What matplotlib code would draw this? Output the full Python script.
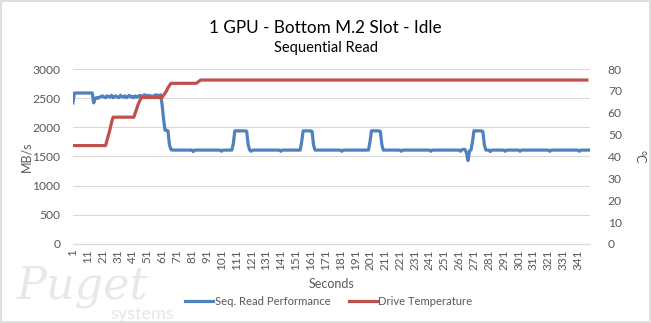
import matplotlib
matplotlib.use('Agg')
import matplotlib.pyplot as plt
from matplotlib.patches import Rectangle

TITLE = '1 GPU - Bottom M.2 Slot - Idle'
SUBTITLE = 'Sequential Read'
OUT = 'out.png'

BLUE = '#4F81BD'
RED = '#C0504D'
GRID = '#D9D9D9'
TEXT = '#595959'

# (value, how many seconds) runs
perf_runs = [
    (2420, 1), (2590, 13), (2420, 1), (2500, 1),
    (2510, 1), (2500, 1), (2520, 1), (2530, 1), (2540, 1), (2520, 1),
    (2510, 1), (2540, 1), (2530, 1), (2520, 1), (2550, 1), (2510, 1),
    (2530, 1), (2540, 1), (2520, 1), (2510, 1), (2550, 1), (2530, 1),
    (2520, 1), (2540, 1), (2510, 1), (2530, 1), (2550, 1), (2520, 1),
    (2530, 1), (2510, 1), (2540, 1), (2520, 1), (2530, 1), (2550, 1),
    (2540, 1), (2530, 1), (2560, 1), (2550, 1), (2540, 1), (2550, 1),
    (2530, 1), (2540, 1), (2520, 1), (2550, 1),
    (2560, 1), (2550, 1), (2540, 1), (2560, 1),
    (2400, 1), (2150, 1), (1950, 2), (1940, 1), (1700, 1), (1620, 1),
    (1610, 14), (1585, 1), (1610, 18), (1590, 1), (1610, 7),
    (1720, 1), (1940, 8), (1930, 1), (1700, 1), (1610, 1), (1590, 1),
    (1610, 19), (1590, 1), (1610, 13),
    (1750, 1), (1940, 6), (1930, 1), (1700, 1),
    (1610, 18), (1590, 1), (1610, 18),
    (1750, 1), (1940, 6), (1930, 1), (1700, 1),
    (1610, 12), (1590, 1), (1610, 19), (1590, 1), (1610, 19), (1590, 1),
    (1620, 3), (1560, 1), (1430, 1), (1600, 1), (1610, 1),
    (1750, 1), (1940, 6), (1930, 1), (1700, 1),
    (1610, 3), (1585, 1), (1610, 9), (1590, 1), (1610, 9), (1590, 1),
    (1610, 19), (1590, 1), (1610, 19), (1590, 1), (1610, 7),
]

temp_runs = [
    (45, 23), (47.5, 1), (50, 1), (52.5, 1), (55.5, 1),
    (58, 15), (60, 1), (62, 1), (64, 1), (65.5, 1),
    (67, 15), (68, 1), (69, 1), (70, 1), (71.5, 1), (72.5, 1),
    (73.5, 18), (74, 1), (74.5, 1),
    (75, 261),
]

xticks = list(range(1, 342, 10))
left_ticks = [0, 500, 1000, 1500, 2000, 2500, 3000]
right_ticks = [0, 10, 20, 30, 40, 50, 60, 70, 80]


def expand(runs):
    vals = []
    for v, n in runs:
        vals += [v] * n
    return vals


def main():
    plt.rcParams['font.family'] = ['Lato', 'DejaVu Sans']
    perf = expand(perf_runs)
    temp = expand(temp_runs)

    fig = plt.figure(figsize=(6.51, 3.23), dpi=100)
    fig.patches.append(Rectangle((0.001, 0.002), 0.997, 0.995, transform=fig.transFigure,
                                 fill=False, edgecolor=GRID, linewidth=1.2))

    # watermark
    fig.text(0.025, 0.075, 'Puget', fontsize=32, style='italic', family='DejaVu Serif',
             color='#E8E8E8', zorder=0)
    fig.text(0.17, 0.012, 'systems', fontsize=13, color='#E4E6EA', zorder=0)

    ax = fig.add_axes([0.112, 0.245, 0.794, 0.541])
    ax2 = ax.twinx()

    ln1, = ax.plot(range(1, len(perf) + 1), perf, color=BLUE, linewidth=2.3,
                   solid_joinstyle='round', label='Seq. Read Performance')
    ln2, = ax2.plot(range(1, len(temp) + 1), temp, color=RED, linewidth=2.3,
                    solid_joinstyle='round', label='Drive Temperature')

    ax.set_xlim(1, 349)
    ax.set_ylim(0, 3000)
    ax2.set_ylim(0, 80)
    ax.set_yticks(left_ticks)
    ax2.set_yticks(right_ticks)
    ax.set_xticks(xticks)
    ax.set_xticklabels([str(t) for t in xticks], rotation=90, fontsize=8.5, color=TEXT)
    ax.tick_params(axis='y', labelsize=8.7, colors=TEXT, length=0, pad=9)
    ax2.tick_params(axis='y', labelsize=8.7, colors=TEXT, length=0, pad=13)
    ax.tick_params(axis='x', length=0, pad=4)
    ax.yaxis.grid(True, color=GRID, linewidth=0.8)
    ax.set_axisbelow(True)
    for a in (ax, ax2):
        for s in ('top', 'left', 'right'):
            a.spines[s].set_visible(False)
        a.spines['bottom'].set_color(GRID)

    ax.set_ylabel('MB/s', fontsize=9, color=TEXT, labelpad=0)
    ax2.set_ylabel('°C', fontsize=9, color=TEXT, rotation=270, va='bottom', labelpad=8)
    ax.set_xlabel('Seconds', fontsize=9, color=TEXT, labelpad=6)

    fig.text(0.5, 0.912, TITLE, ha='center', va='center', fontsize=12.3, color='#000000')
    fig.text(0.5, 0.851, SUBTITLE, ha='center', va='center', fontsize=10.5, color='#000000')

    fig.legend(handles=[ln1, ln2], loc='center', bbox_to_anchor=(0.505, 0.068), ncol=2,
               frameon=False, fontsize=8.1, handlelength=2.5, handletextpad=0.15,
               columnspacing=1.6, labelcolor=TEXT)

    fig.savefig(OUT, dpi=100)
    plt.close(fig)


if __name__ == '__main__':
    main()
